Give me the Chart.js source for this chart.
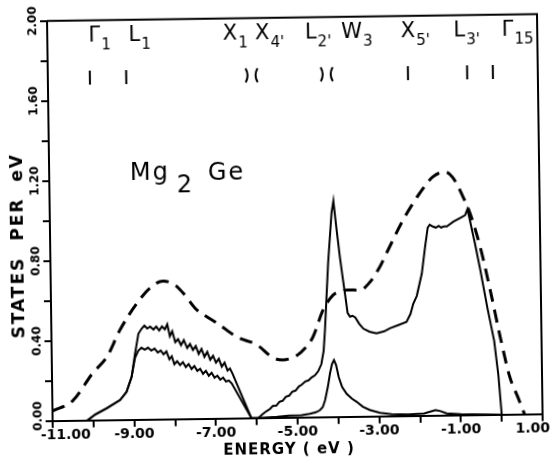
<!DOCTYPE html>
<html>
<head>
<meta charset="utf-8">
<script src="https://cdn.jsdelivr.net/npm/chart.js@4"></script>
<style>
  html, body { margin: 0; padding: 0; background: #fff; overflow: hidden; }
  /* the scanned figure sits slightly rotated on the page */
  #dos { display: block; transform: rotate(-0.8deg); }
</style>
</head>
<body>
<canvas id="dos" width="555" height="463"></canvas>
<script>
/*--------------------DATA--------------------*/
// dashed curve
let dashEnergy = [-11.0, -10.5, -10.0, -9.65, -9.32, -8.89, -8.57, -8.25, -7.95, -7.76,
    -7.43, -7.18, -6.94, -6.46, -5.97, -5.58, -5.34, -5.10, -4.92, -4.60,
    -4.34, -4.09, -3.90, -3.75, -3.43, -3.18, -2.91, -2.73, -2.35, -1.93,
    -1.61, -1.32, -1.12, -0.87, -0.71, -0.47, -0.24, -0.01, 0.21, 0.40, 0.56];
let dashStates = [0.05, 0.10, 0.237, 0.316, 0.45, 0.584, 0.658, 0.692, 0.67, 0.63,
    0.545, 0.509, 0.478, 0.407, 0.366, 0.30, 0.289, 0.30, 0.322, 0.40,
    0.536, 0.61, 0.628, 0.634, 0.633, 0.673, 0.757, 0.83, 0.98, 1.114,
    1.193, 1.218, 1.19, 1.09, 1.01, 0.84, 0.624, 0.388, 0.188, 0.087, 0.0];

// upper solid curve
let totalEnergy = [-10.15, -9.95, -9.67, -9.34, -9.18, -9.05, -8.96, -8.87,
    -8.79, -8.72, -8.65, -8.58, -8.50, -8.43, -8.36, -8.29, -8.22, -8.16,
    -8.10, -8.04, -7.97, -7.90, -7.83, -7.76, -7.68, -7.61, -7.54, -7.47,
    -7.40, -7.33, -7.26, -7.19, -7.12, -7.05, -6.98, -6.91, -6.84, -6.77,
    -6.70, -6.64, -6.58, -6.13,
    -5.96, -5.85, -5.75, -5.67, -5.60, -5.52, -5.44, -5.36, -5.28, -5.20,
    -5.12, -5.04, -4.96, -4.88, -4.80, -4.72, -4.64, -4.56, -4.48, -4.40,
    -4.34, -4.30, -4.20, -4.10, -4.05, -3.98, -3.91, -3.85, -3.80, -3.74,
    -3.68, -3.62, -3.55, -3.46, -3.36, -3.21, -3.04, -2.85, -2.71, -2.50,
    -2.30, -2.20, -2.13, -2.04, -1.91, -1.82, -1.75, -1.70, -1.62, -1.55,
    -1.48, -1.42, -1.35, -1.28, -1.12, -0.92, -0.83, -0.77, -0.72, -0.67,
    -0.60, -0.48, -0.31, -0.16, -0.07, 0.0];
let totalStates = [0, 0.03, 0.06, 0.10, 0.14, 0.215, 0.33, 0.43,
    0.455, 0.47, 0.455, 0.465, 0.45, 0.465, 0.445, 0.465, 0.45, 0.475,
    0.415, 0.44, 0.385, 0.40, 0.37, 0.395, 0.355, 0.375, 0.345, 0.365,
    0.325, 0.35, 0.31, 0.335, 0.295, 0.315, 0.28, 0.30, 0.26, 0.28,
    0.24, 0.25, 0.225, 0,
    0, 0.02, 0.035, 0.045, 0.06, 0.06, 0.08, 0.085, 0.105, 0.11,
    0.13, 0.135, 0.155, 0.165, 0.18, 0.185, 0.20, 0.21, 0.23, 0.265,
    0.33, 0.435, 0.77, 1.02, 1.08, 0.935, 0.80, 0.70, 0.62, 0.52,
    0.50, 0.505, 0.495, 0.465, 0.44, 0.424, 0.415, 0.425, 0.44, 0.455,
    0.47, 0.51, 0.56, 0.60, 0.71, 0.845, 0.94, 0.955, 0.945, 0.94,
    0.948, 0.94, 0.945, 0.945, 0.968, 0.99, 1.00, 1.03, 0.98, 0.93,
    0.86, 0.73, 0.53, 0.37, 0.20, 0];

// lower solid curve
let partialEnergy = [-10.15, -9.95, -9.67, -9.34, -9.18, -9.05, -8.96,
    -8.88, -8.80, -8.72, -8.64, -8.56, -8.48, -8.40, -8.33, -8.26, -8.19,
    -8.12, -8.06, -8.00, -7.93, -7.86, -7.79, -7.72, -7.65, -7.58, -7.51,
    -7.44, -7.37, -7.30, -7.23, -7.16, -7.09, -7.02, -6.95, -6.88, -6.81,
    -6.74, -6.67, -6.60, -6.13,
    -5.96, -5.50, -5.20, -4.90, -4.70, -4.55, -4.45, -4.38, -4.32, -4.25,
    -4.19, -4.14, -4.09, -4.04, -3.98, -3.90, -3.79, -3.66, -3.55, -3.40,
    -3.23, -2.98, -2.70, -2.30, -1.90, -1.75, -1.62, -1.50, -1.35, -1.00,
    -0.50, 0.0];
let partialStates = [0, 0.03, 0.06, 0.10, 0.14, 0.215, 0.31,
    0.345, 0.36, 0.35, 0.36, 0.345, 0.355, 0.335, 0.345, 0.325, 0.34,
    0.30, 0.315, 0.275, 0.29, 0.27, 0.285, 0.26, 0.275, 0.25, 0.265,
    0.24, 0.25, 0.225, 0.24, 0.215, 0.23, 0.205, 0.215, 0.195, 0.205,
    0.185, 0.19, 0.175, 0,
    0, 0.005, 0.01, 0.012, 0.018, 0.025, 0.035, 0.05, 0.085, 0.15,
    0.22, 0.265, 0.285, 0.26, 0.20, 0.15, 0.115, 0.09, 0.075, 0.05,
    0.033, 0.018, 0.01, 0.008, 0.012, 0.02, 0.028, 0.022, 0.01, 0.005,
    0.003, 0];

// symmetry points along the top
let pointNames = ['Γ', 'L', 'X', 'X', 'L', 'W', 'X', 'L', 'Γ'];
let pointSubs = ['1', '1', '1', "4'", "2'", '3', "5'", "3'", '15'];
let pointLabelEnergy = [-9.99, -9.01, -6.70, -5.91, -4.69, -3.80, -2.34, -1.05, 0.13];
let pointMarkEnergy = [-9.97, -9.08, -6.12, -5.90, -4.28, -4.06, -2.18, -0.73, -0.10];
let pointMarkShape = ['|', '|', ')', '(', ')', '(', '|', '|', '|'];

/*--------------------CHART--------------------*/
const toPoints = (xs, ys) => xs.map((e, i) => ({ x: e, y: ys[i] }));
const FONT = '"DejaVu Sans"';

const decor = {
    id: 'decor',
    afterDraw(chart) {
        const { ctx, chartArea: a, scales: { x, y } } = chart;
        ctx.save();
        ctx.setLineDash([]);
        ctx.strokeStyle = '#000';
        ctx.fillStyle = '#000';

        // top and right frame
        ctx.lineWidth = 2;
        ctx.beginPath();
        ctx.moveTo(a.left, a.top);
        ctx.lineTo(a.right, a.top);
        ctx.lineTo(a.right, a.bottom);
        ctx.stroke();

        // tick marks, pointing out
        ctx.beginPath();
        x.ticks.forEach(t => {
            let px = Math.round(x.getPixelForValue(t.value));
            ctx.moveTo(px, a.bottom);
            ctx.lineTo(px, a.bottom + 7);
        });
        y.ticks.forEach(t => {
            let py = Math.round(y.getPixelForValue(t.value));
            ctx.moveTo(a.left - 7, py);
            ctx.lineTo(a.left, py);
        });
        ctx.stroke();

        // x tick labels
        ctx.font = 'bold 14px ' + FONT;
        ctx.textAlign = 'center';
        ctx.textBaseline = 'middle';
        x.ticks.forEach(t => {
            if (Math.abs(Math.round(t.value)) % 2 !== 1) return;
            let shift = t.value === -11 ? 13 : (t.value === 1 ? -10 : 0);
            ctx.fillText(t.value.toFixed(2), x.getPixelForValue(t.value) + shift, a.bottom + 15);
        });

        // y tick labels, rotated
        ctx.font = 'bold 12px ' + FONT;
        y.ticks.forEach(t => {
            if (Math.round(t.value * 10) % 4 !== 0) return;
            let shift = t.value === 0 ? -5 : 0;
            ctx.save();
            ctx.translate(a.left - 14, y.getPixelForValue(t.value) + shift);
            ctx.rotate(-Math.PI / 2);
            ctx.fillText(t.value.toFixed(2), 0, 0);
            ctx.restore();
        });

        // axis titles
        ctx.font = 'bold 17px ' + FONT;
        ctx.letterSpacing = '2px';
        ctx.wordSpacing = '8px';
        ctx.save();
        ctx.translate(19, 242);
        ctx.rotate(-Math.PI / 2);
        ctx.fillText('STATES PER eV', 0, 0);
        ctx.restore();
        ctx.wordSpacing = '0px';
        ctx.letterSpacing = '1px';
        ctx.font = 'bold 15px ' + FONT;
        ctx.fillText('ENERGY ( eV )', 286, 450);

        // symmetry point labels
        ctx.textAlign = 'left';
        ctx.textBaseline = 'alphabetic';
        ctx.letterSpacing = '0px';
        pointNames.forEach((n, i) => {
            let px = x.getPixelForValue(pointLabelEnergy[i]);
            let py = y.getPixelForValue(1.896);
            ctx.font = '21px ' + FONT;
            ctx.fillText(n, px, py);
            let w = ctx.measureText(n).width;
            ctx.font = '15px ' + FONT;
            ctx.fillText(pointSubs[i], px + w + 1, py + 8);
        });

        // symmetry point marks
        let top = y.getPixelForValue(1.749);
        let bot = y.getPixelForValue(1.679);
        let mid = (top + bot) / 2;
        ctx.lineWidth = 2;
        pointMarkEnergy.forEach((e, i) => {
            let px = x.getPixelForValue(e);
            ctx.beginPath();
            if (pointMarkShape[i] === '|') {
                ctx.moveTo(px, top);
                ctx.lineTo(px, bot);
            } else {
                let d = pointMarkShape[i] === ')' ? 1 : -1;
                ctx.moveTo(px - 1.5 * d, top);
                ctx.quadraticCurveTo(px + 2.5 * d, mid, px - 1.5 * d, bot);
            }
            ctx.stroke();
        });

        // compound name
        ctx.font = '24px ' + FONT;
        ctx.letterSpacing = '2px';
        ctx.fillText('Mg', x.getPixelForValue(-9.02), y.getPixelForValue(1.20));
        ctx.fillText('2', x.getPixelForValue(-7.875), y.getPixelForValue(1.136));
        ctx.fillText('Ge', x.getPixelForValue(-7.113), y.getPixelForValue(1.194));
        ctx.restore();
    }
};

let canvas = document.getElementById('dos');
let chart = new Chart(canvas, {
    type: 'scatter',
    data: {
        datasets: [
            {
                data: toPoints(dashEnergy, dashStates),
                showLine: true,
                borderColor: '#000',
                borderWidth: 3,
                borderDash: [13, 8],
                cubicInterpolationMode: 'monotone',
                pointRadius: 0
            },
            {
                data: toPoints(totalEnergy, totalStates),
                showLine: true,
                borderColor: '#000',
                borderWidth: 2,
                tension: 0,
                pointRadius: 0
            },
            {
                data: toPoints(partialEnergy, partialStates),
                showLine: true,
                borderColor: '#000',
                borderWidth: 2,
                tension: 0,
                pointRadius: 0
            }
        ]
    },
    options: {
        responsive: false,
        animation: false,
        devicePixelRatio: 1,
        layout: { padding: { top: 17.8, left: 0, right: 0, bottom: 0 } },
        plugins: {
            legend: { display: false },
            tooltip: { enabled: false }
        },
        scales: {
            x: {
                type: 'linear',
                min: -11,
                max: 1,
                border: { color: '#000', width: 2 },
                grid: { drawOnChartArea: false, drawTicks: false },
                ticks: { stepSize: 1, autoSkip: false, display: false },
                afterFit: s => { s.height = 45.2; s.paddingLeft = 0; s.paddingRight = 15; }
            },
            y: {
                min: 0,
                max: 2,
                border: { color: '#000', width: 2 },
                grid: { drawOnChartArea: false, drawTicks: false },
                ticks: { stepSize: 0.2, display: false },
                afterFit: s => { s.width = 50; s.paddingTop = 0; s.paddingBottom = 0; }
            }
        }
    },
    plugins: [decor]
});
</script>
</body>
</html>
